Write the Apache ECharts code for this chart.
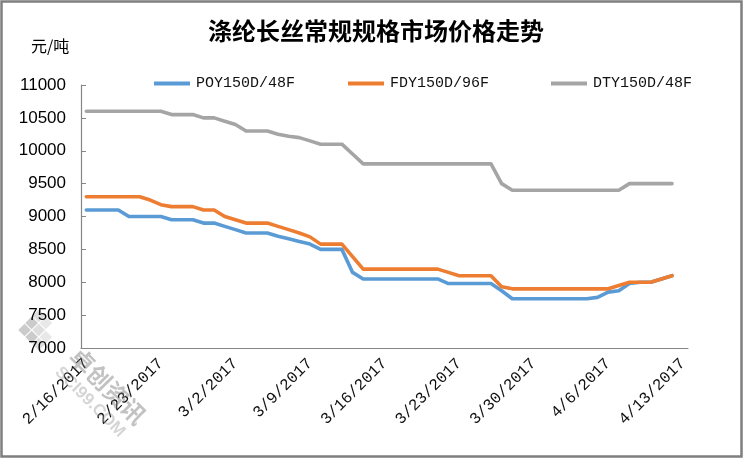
<!DOCTYPE html>
<html>
<head>
<meta charset="utf-8">
<script src="https://cdn.jsdelivr.net/npm/echarts@6/dist/echarts.min.js"></script>
<style>
html,body{margin:0;padding:0;background:#fff;}
#chart{width:743px;height:458px;}
</style>
</head>
<body>
<div id="chart"></div>
<script>
var dates = [
 '2/16/2017','2/17/2017','2/18/2017','2/19/2017','2/20/2017','2/21/2017','2/22/2017','2/23/2017','2/24/2017','2/25/2017',
 '2/26/2017','2/27/2017','2/28/2017','3/1/2017','3/2/2017','3/3/2017','3/4/2017','3/5/2017','3/6/2017','3/7/2017',
 '3/8/2017','3/9/2017','3/10/2017','3/11/2017','3/12/2017','3/13/2017','3/14/2017','3/15/2017','3/16/2017','3/17/2017',
 '3/18/2017','3/19/2017','3/20/2017','3/21/2017','3/22/2017','3/23/2017','3/24/2017','3/25/2017','3/26/2017','3/27/2017',
 '3/28/2017','3/29/2017','3/30/2017','3/31/2017','4/1/2017','4/2/2017','4/3/2017','4/4/2017','4/5/2017','4/6/2017',
 '4/7/2017','4/8/2017','4/9/2017','4/10/2017','4/11/2017','4/12/2017','4/13/2017'
];
var seriesNames = ['POY150D/48F','FDY150D/96F','DTY150D/48F'];
var poy = [
 9100,9100,9100,9100,9000,9000,9000,9000,8950,8950,
 8950,8900,8900,8850,8800,8750,8750,8750,8700,8660,
 8620,8580,8500,8500,8500,8150,8050,8050,8050,8050,
 8050,8050,8050,8050,7980,7980,7980,7980,7980,7870,
 7750,7750,7750,7750,7750,7750,7750,7750,7770,7850,
 7870,7980,8000,8000,8050,8100,null
];
var fdy = [
 9300,9300,9300,9300,9300,9300,9250,9180,9150,9150,
 9150,9100,9100,9000,8950,8900,8900,8900,8850,8800,
 8750,8690,8580,8580,8580,8390,8200,8200,8200,8200,
 8200,8200,8200,8200,8150,8100,8100,8100,8100,7930,
 7900,7900,7900,7900,7900,7900,7900,7900,7900,7900,
 7950,8000,8000,8000,8050,8100,null
];
var dty = [
 10600,10600,10600,10600,10600,10600,10600,10600,10550,10550,
 10550,10500,10500,10450,10400,10300,10300,10300,10250,10220,
 10200,10150,10100,10100,10100,9950,9800,9800,9800,9800,
 9800,9800,9800,9800,9800,9800,9800,9800,9800,9500,
 9400,9400,9400,9400,9400,9400,9400,9400,9400,9400,
 9400,9500,9500,9500,9500,9500,null
];
var colors = ['#5B9BD5','#ED7D31','#A5A5A5'];
var yTicks = {min:7000, max:11000, interval:500};

var chart = echarts.init(document.getElementById('chart'), null, {renderer:'canvas'});
var axisColor = '#868686';
function mkLegend(i, left){
  return {
    data:[seriesNames[i]], left:left, top:76, padding:0,
    icon:'rect', itemWidth:36, itemHeight:4,
    textStyle:{fontFamily:'Liberation Mono', fontSize:15, color:'#111', padding:[0,0,0,1]}
  };
}
var option = {
  animation:false,
  backgroundColor:'#fff',
  title:{
    text:'涤纶长丝常规规格市场价格走势', left:376, top:19, padding:0, textAlign:'center',
    textStyle:{fontFamily:'Noto Sans CJK SC', fontSize:24, fontWeight:'bold', color:'#000'}
  },
  legend:[mkLegend(0,154), mkLegend(1,348), mkLegend(2,551)],
  grid:{left:81, top:85, right:55, bottom:110, containLabel:false},
  xAxis:{
    type:'category', data:dates, boundaryGap:true,
    axisLine:{lineStyle:{color:axisColor, width:1.2}},
    axisTick:{inside:true, length:6, interval:6, alignWithLabel:false, lineStyle:{color:axisColor}},
    axisLabel:{interval:6, rotate:45, margin:13, fontFamily:'Liberation Mono', fontSize:16, color:'#111'},
    splitLine:{show:false}
  },
  yAxis:{
    type:'value', min:yTicks.min, max:yTicks.max, interval:yTicks.interval,
    axisLine:{show:true, lineStyle:{color:axisColor, width:1.2}},
    axisTick:{show:true, inside:true, length:5, lineStyle:{color:axisColor}},
    axisLabel:{margin:15, fontFamily:'Liberation Sans', fontSize:17, color:'#000',
      formatter:function(v){ return String(v); }},
    splitLine:{show:false}
  },
  series:[poy, fdy, dty].map(function(d,i){
    return {
      name:seriesNames[i], type:'line', data:d, symbol:'none', smooth:false,
      connectNulls:false,
      itemStyle:{color:colors[i]},
      lineStyle:{color:colors[i], width:3.6, cap:'round', join:'round'}
    };
  }),
  graphic:[
    {type:'rect', z:100, silent:true, shape:{x:1.5, y:1.5, width:740, height:455},
     style:{fill:'none', stroke:'#7f7f7f', lineWidth:2.5}},
    {type:'text', z:50, silent:true, style:{text:'元/吨', x:31, y:46, verticalAlign:'middle',
     fontFamily:'Noto Sans CJK SC', fontSize:16, fill:'#000'}},
    {type:'group', z:40, silent:true, x:38, y:330, rotation:Math.PI/4, children:[
      {type:'rect', shape:{x:-14,y:-14,width:9,height:9}, style:{fill:'rgba(140,140,140,0.45)'}},
      {type:'rect', shape:{x:-4,y:-14,width:9,height:9}, style:{fill:'rgba(140,140,140,0.45)'}},
      {type:'rect', shape:{x:6,y:-14,width:9,height:9}, style:{fill:'rgba(160,160,160,0.35)'}},
      {type:'rect', shape:{x:-14,y:-4,width:9,height:9}, style:{fill:'rgba(140,140,140,0.45)'}},
      {type:'rect', shape:{x:-4,y:-4,width:9,height:9}, style:{fill:'rgba(160,160,160,0.35)'}},
      {type:'rect', shape:{x:6,y:-4,width:9,height:9}, style:{fill:'rgba(180,180,180,0.3)'}},
      {type:'rect', shape:{x:-14,y:6,width:9,height:9}, style:{fill:'rgba(160,160,160,0.35)'}},
      {type:'rect', shape:{x:-4,y:6,width:9,height:9}, style:{fill:'rgba(180,180,180,0.3)'}}
    ]},
    {type:'text', z:40, silent:true, x:108, y:386, rotation:-Math.PI/4,
     style:{text:'卓创资讯', align:'center', verticalAlign:'middle',
     fontFamily:'Noto Sans CJK SC', fontSize:24, fontWeight:'bold', fill:'rgba(120,120,120,0.45)'}},
    {type:'text', z:40, silent:true, x:90, y:402, rotation:-Math.PI/4,
     style:{text:'SCI99.COM', align:'center', verticalAlign:'middle',
     fontFamily:'Liberation Sans', fontSize:17, fontWeight:'bold', fill:'rgba(150,150,150,0.4)'}}
  ]
};
chart.setOption(option);
</script>
</body>
</html>
